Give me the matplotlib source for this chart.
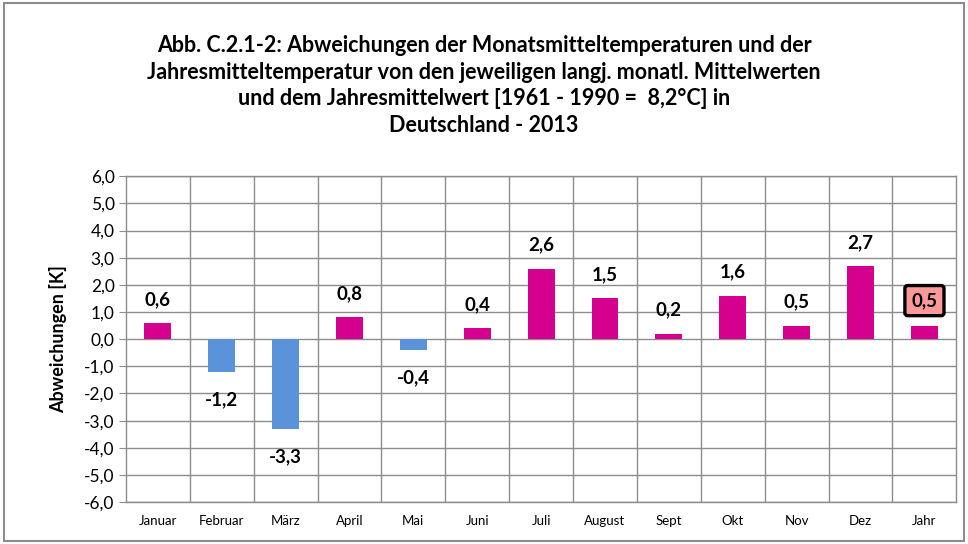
import matplotlib.pyplot as plt
from matplotlib.patches import FancyBboxPatch

plt.rcParams['font.family'] = ['Lato', 'DejaVu Sans']

months = ['Januar', 'Februar', 'März', 'April', 'Mai', 'Juni', 'Juli',
          'August', 'Sept', 'Okt', 'Nov', 'Dez', 'Jahr']
values = [0.6, -1.2, -3.3, 0.8, -0.4, 0.4, 2.6, 1.5, 0.2, 1.6, 0.5, 2.7, 0.5]
yticks = [-6, -5, -4, -3, -2, -1, 0, 1, 2, 3, 4, 5, 6]

pink = '#D6008F'
blue = '#5B93DA'
colors = [pink if v >= 0 else blue for v in values]

fig = plt.figure(figsize=(9.68, 5.44), dpi=100)
fig.patches.append(FancyBboxPatch((0.004, 0.006), 0.992, 0.988, boxstyle='square,pad=0',
                                  transform=fig.transFigure, fill=False,
                                  edgecolor='#8C8C8C', linewidth=1.5))
ax = fig.add_axes([0.130, 0.077, 0.858, 0.599])

x = list(range(len(months)))
ax.bar(x, values, width=0.42, color=colors, zorder=3)

ax.set_xlim(-0.5, len(months) - 0.5)
ax.set_ylim(-6, 6)
ax.set_yticks(yticks)
ax.yaxis.set_major_formatter(plt.FuncFormatter(lambda v, p: ('%.1f' % v).replace('.', ',')))
ax.tick_params(axis='y', labelsize=12.5)
ax.set_xticks(x)
ax.set_xticklabels(months, fontsize=9.5)
ax.set_xticks([i + 0.5 for i in x[:-1]], minor=True)
ax.tick_params(axis='x', which='both', length=0, pad=9)
ax.tick_params(axis='y', length=5, color='#8C8C8C', direction='out', pad=3)
ax.grid(axis='y', color='#8C8C8C', linewidth=1.0, zorder=0)
ax.grid(axis='x', which='minor', color='#8C8C8C', linewidth=1.0, zorder=0)
for s in ax.spines.values():
    s.set_color('#8C8C8C')
    s.set_linewidth(1.0)

ax.set_ylabel('Abweichungen [K]', fontsize=13, fontweight='bold', labelpad=12)

for i, v in enumerate(values):
    txt = ('%.1f' % v).replace('.', ',')
    if months[i] == 'Jahr':
        ax.annotate(txt, (i, v), xytext=(0, 18), textcoords='offset points',
                    ha='center', va='center', fontsize=13.5, fontweight='bold',
                    bbox=dict(boxstyle='round,pad=0.35,rounding_size=0.15',
                              facecolor='#FF9999', edgecolor='black', linewidth=2.4),
                    zorder=5)
    elif v >= 0:
        ax.annotate(txt, (i, v), xytext=(0, 17), textcoords='offset points',
                    ha='center', va='center', fontsize=13.5, fontweight='bold')
    else:
        ax.annotate(txt, (i, v), xytext=(0, -20), textcoords='offset points',
                    ha='center', va='center', fontsize=13.5, fontweight='bold')

title = ('Abb. C.2.1-2: Abweichungen der Monatsmitteltemperaturen und der\n'
         'Jahresmitteltemperatur von den jeweiligen langj. monatl. Mittelwerten\n'
         'und dem Jahresmittelwert [1961 - 1990 =  8,2°C] in\n'
         'Deutschland - 2013')
fig.text(0.5, 0.843, title, ha='center', va='center', fontsize=15.5,
         fontweight='bold', linespacing=1.32)

fig.savefig('out.png', dpi=100)
